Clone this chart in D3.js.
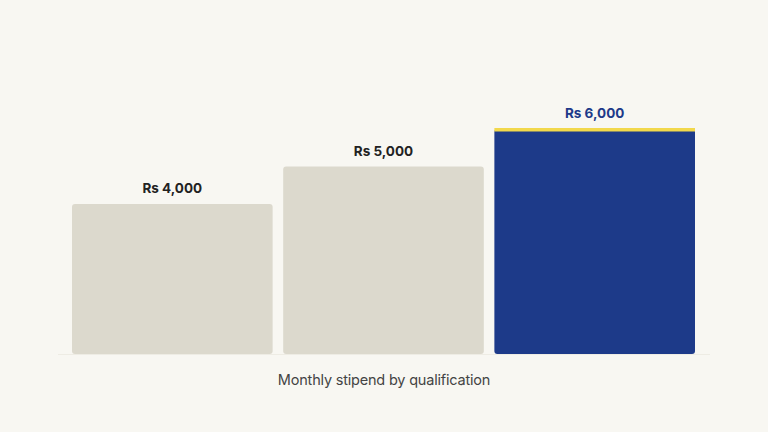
<!DOCTYPE html>
<html>
<head>
<meta charset="utf-8">
<script src="https://cdn.jsdelivr.net/npm/d3@7"></script>
<style>
  body { margin: 0; background: #f8f7f2; }
</style>
</head>
<body>
<div id="chart"></div>
<script>
var categories = ["A", "B", "C"];
var stipends = [4000, 5000, 6000];
var labels = ["Rs 4,000", "Rs 5,000", "Rs 6,000"];
var caption = "Monthly stipend by qualification";

var svg = d3.select("#chart")
    .append("svg")
    .attr("width", 768)
    .attr("height", 432);

svg.append("rect")
    .attr("width", 768)
    .attr("height", 432)
    .attr("fill", "#f8f7f2");

var x = d3.scaleBand()
    .domain(categories)
    .range([72, 695])
    .paddingInner(0.05)
    .paddingOuter(0);

var y = d3.scaleLinear()
    .domain([0, 6000])
    .range([354, 129]);

// faint baseline
svg.append("line")
    .attr("x1", 58).attr("x2", 710)
    .attr("y1", y(0) + 0.5).attr("y2", y(0) + 0.5)
    .attr("stroke", "#eeece4")
    .attr("stroke-width", 1);

var data = categories.map(function (c, i) {
    return { cat: c, v: stipends[i], label: labels[i], hi: i === categories.length - 1 };
});

svg.selectAll(".bar")
    .data(data)
    .enter()
    .append("rect")
    .attr("class", "bar")
    .attr("x", function (d) { return x(d.cat); })
    .attr("y", function (d) { return y(d.v); })
    .attr("width", x.bandwidth())
    .attr("height", function (d) { return y(0) - y(d.v); })
    .attr("rx", 3)
    .attr("fill", function (d) { return d.hi ? "#1d3a89" : "#dcd9cd"; });

// yellow top accent on highlighted bar
svg.selectAll(".accent")
    .data(data.filter(function (d) { return d.hi; }))
    .enter()
    .append("rect")
    .attr("class", "accent")
    .attr("x", function (d) { return x(d.cat); })
    .attr("y", function (d) { return y(d.v) - 1; })
    .attr("width", x.bandwidth())
    .attr("height", 3.5)
    .attr("fill", "#f2d84c");

svg.selectAll(".val")
    .data(data)
    .enter()
    .append("text")
    .attr("class", "val")
    .attr("x", function (d) { return x(d.cat) + x.bandwidth() / 2; })
    .attr("y", function (d) { return y(d.v) - 11; })
    .attr("text-anchor", "middle")
    .attr("font-family", "Inter, 'Noto Sans', sans-serif")
    .attr("font-size", 13.5)
    .attr("font-weight", 700)
    .attr("fill", function (d) { return d.hi ? "#1d3a89" : "#222"; })
    .text(function (d) { return d.label; });

svg.append("text")
    .attr("x", 384)
    .attr("y", 384.5)
    .attr("text-anchor", "middle")
    .attr("font-family", "Inter, 'Noto Sans', sans-serif")
    .attr("font-size", 14.5)
    .attr("fill", "#444")
    .attr("letter-spacing", -0.2)
    .text(caption);
</script>
</body>
</html>
